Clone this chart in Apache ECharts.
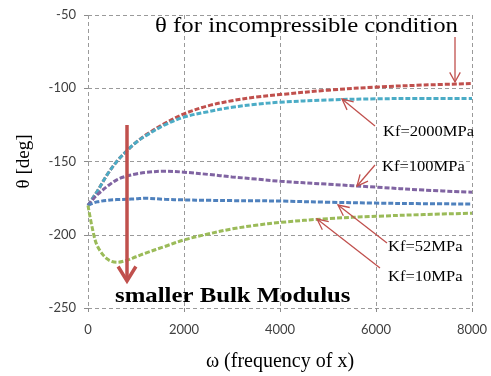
<!DOCTYPE html>
<html>
<head>
<meta charset="utf-8">
<script src="https://cdn.jsdelivr.net/npm/echarts@6/dist/echarts.min.js"></script>
<style>
    html, body {margin: 0; padding: 0; background: #fff;}
    #chart {width: 491px; height: 376px;}
</style>
</head>
<body>
<div id="chart"></div>
<script>
// frequency samples (x axis)
const omega = [0, 100, 200, 400, 600, 800, 1000, 1200, 1600, 2000, 2500, 3000, 3500, 4000, 5000, 6000, 7000, 8000];

// theta [deg]
const thetaIncompressible = [-180, -175, -170, -159, -150, -143, -137, -132, -124, -117.5, -112, -108.5, -106, -104.3, -101.3, -99.2, -97.8, -96.8];
const thetaKf2000 = [-180, -175, -170, -159, -150, -143, -137, -132.5, -125, -119.7, -116, -113, -111, -109.5, -108, -107.2, -107, -107];
const thetaKf100 = [-180, -176, -172.5, -167, -162.5, -160, -158.5, -157.5, -156.6, -157.3, -158.8, -160.5, -162, -163.5, -165.5, -167.5, -169.5, -171];
const thetaKf52 = [-180, -178.5, -177.5, -176.5, -176, -175.8, -175.5, -175.1, -175.8, -176.2, -176.5, -176.7, -176.8, -177, -177.8, -178.4, -178.8, -179];
const thetaKf10 = [-180, -197, -208, -216.5, -218.8, -217.5, -215, -212.5, -208, -203.5, -199.5, -196, -193.5, -191.6, -189, -187.4, -186.2, -185.3];

const xTicks = {min: 0, max: 8000, interval: 2000};
const yTicks = {min: -250, max: -50, interval: 50};

const serif = "'Liberation Serif', 'Times New Roman', serif";
const red = '#c0504d';

function pairs(ys) {
    return omega.map((w, i) => [w, ys[i]]);
}

function curve(name, ys, color) {
    return {
        name: name,
        type: 'line',
        data: pairs(ys),
        smooth: 0.35,
        showSymbol: false,
        lineStyle: {color: color, width: 3, type: [5, 2]}
    };
}

// straight arrow with an open V head at (x2, y2)
function arrow(x1, y1, x2, y2, width, headLen, headHalf) {
    let a = Math.atan2(y2 - y1, x2 - x1);
    let l = a + Math.PI - headHalf;
    let r = a + Math.PI + headHalf;
    let style = {stroke: red, lineWidth: width, fill: null};
    return [
        {type: 'polyline', shape: {points: [[x1, y1], [x2, y2]]}, style: style, z: 20},
        {type: 'polyline', shape: {points: [
            [x2 + headLen * Math.cos(l), y2 + headLen * Math.sin(l)],
            [x2, y2],
            [x2 + headLen * Math.cos(r), y2 + headLen * Math.sin(r)]
        ]}, style: style, z: 20}
    ];
}

function label(text, x, y, size, bold) {
    return {
        type: 'text', x: x, y: y, scaleX: 1.18, z: 21,
        style: {
            text: text, fill: '#000', font: (bold ? 'bold ' : '') + size + 'px ' + serif,
            textVerticalAlign: 'middle'
        }
    };
}

let graphics = [].concat(
    [label('θ for incompressible condition', 155, 26, 21, false)],
    arrow(455, 37, 455, 82, 1.3, 11, 0.5),
    [label('Kf=2000MPa', 383, 132, 14, false)],
    arrow(375, 126, 342, 99, 1.3, 12, 0.45),
    [label('Kf=100MPa', 382, 167, 14, false)],
    arrow(375, 165, 357, 186, 1.3, 12, 0.45),
    [label('Kf=52MPa', 388, 247, 14, false)],
    arrow(387, 243, 338, 205, 1.3, 12, 0.45),
    [label('Kf=10MPa', 388, 277, 14, false)],
    arrow(380, 268, 317, 219, 1.3, 12, 0.45),
    arrow(127, 125, 127, 281, 3.5, 17, 0.55),
    [label('smaller Bulk Modulus', 115, 297, 21, true)]
);

let chart = echarts.init(document.getElementById('chart'));
chart.setOption({
    animation: false,
    grid: {left: 88, right: 19, top: 15, bottom: 68, outerBoundsMode: 'none'},
    xAxis: {
        type: 'value',
        min: xTicks.min, max: xTicks.max, interval: xTicks.interval,
        name: 'ω (frequency of x)',
        nameLocation: 'middle',
        nameGap: 44,
        nameTextStyle: {fontFamily: serif, fontSize: 20, color: '#000'},
        axisLine: {show: false},
        axisTick: {show: true, length: 4, lineStyle: {color: '#8c8c8c'}},
        axisLabel: {
            color: '#404040', fontFamily: 'Lato', fontSize: 13, margin: 15,
            formatter: v => String(v)
        },
        splitLine: {show: true, lineStyle: {color: '#9a9a9a', type: [4, 3]}}
    },
    yAxis: {
        type: 'value',
        min: yTicks.min, max: yTicks.max, interval: yTicks.interval,
        name: 'θ [deg]',
        nameLocation: 'middle',
        nameGap: 54,
        nameTextStyle: {fontFamily: serif, fontSize: 19, color: '#000'},
        axisLine: {show: false},
        axisTick: {show: true, length: 4, lineStyle: {color: '#8c8c8c'}},
        axisLabel: {color: '#404040', fontFamily: 'Lato', fontSize: 13, margin: 12},
        splitLine: {show: true, lineStyle: {color: '#9a9a9a', type: [4, 3]}}
    },
    series: [
        curve('incompressible', thetaIncompressible, '#c0504d'),
        curve('Kf=2000MPa', thetaKf2000, '#4bacc6'),
        curve('Kf=100MPa', thetaKf100, '#8064a2'),
        curve('Kf=52MPa', thetaKf52, '#4f81bd'),
        curve('Kf=10MPa', thetaKf10, '#9bbb59')
    ],
    graphic: graphics
});
</script>
</body>
</html>
